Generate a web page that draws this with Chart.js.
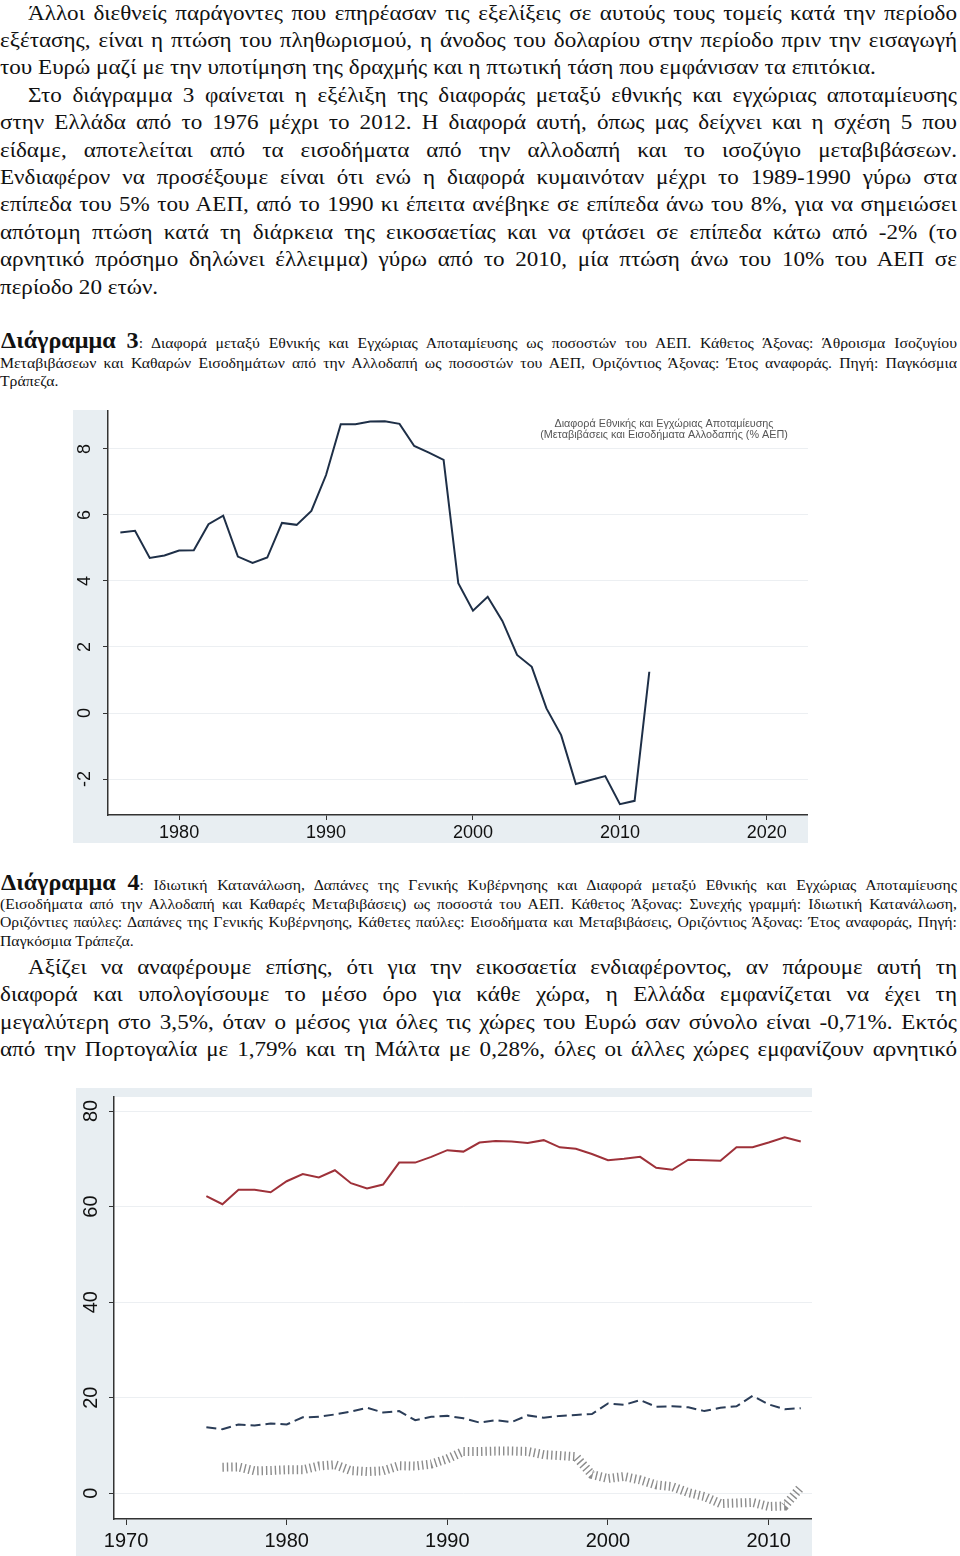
<!DOCTYPE html>
<html><head><meta charset="utf-8">
<script src="https://cdn.jsdelivr.net/npm/chart.js@4.4.1/dist/chart.umd.min.js"></script>
<style>
html,body{margin:0;padding:0;background:#fff;width:960px;height:1556px;overflow:hidden;position:relative;}
.ln{position:absolute;white-space:nowrap;font-family:"Liberation Serif","Times New Roman",serif;color:#111;transform-origin:0 0;}
.ln b{font-weight:bold;}
canvas{position:absolute;}
</style></head><body>
<canvas id="c1" width="735" height="433" style="left:73px;top:410px;"></canvas>
<canvas id="c2" width="736" height="468" style="left:76px;top:1088px;"></canvas>
<script>
// ---- Chart 3 data: difference national - domestic saving (% GDP) ----
const years1 = [1976,1977,1978,1979,1980,1981,1982,1983,1984,1985,1986,1987,1988,1989,1990,1991,1992,1993,1994,1995,1996,1997,1998,1999,2000,2001,2002,2003,2004,2005,2006,2007,2008,2009,2010,2011,2012];
const savingGap = [5.47,5.52,4.70,4.77,4.92,4.93,5.72,5.98,4.74,4.55,4.71,5.76,5.70,6.12,7.21,8.75,8.75,8.83,8.84,8.76,8.09,7.89,7.67,3.93,3.10,3.52,2.79,1.76,1.40,0.14,-0.67,-2.15,-2.03,-1.91,-2.76,-2.66,1.25];
const xTicks1 = [1980,1990,2000,2010,2020];
const yTicks1 = [-2,0,2,4,6,8];
const legend1 = ["Διαφορά Εθνικής και Εγχώριας Αποταμίευσης","(Μεταβιβάσεις και Εισοδήματα Αλλοδαπής (% ΑΕΠ)"];

// ---- Chart 4 data ----
const years2 = [1975,1976,1977,1978,1979,1980,1981,1982,1983,1984,1985,1986,1987,1988,1989,1990,1991,1992,1993,1994,1995,1996,1997,1998,1999,2000,2001,2002,2003,2004,2005,2006,2007,2008,2009,2010,2011,2012];
const privateConsumption = [62.2,60.5,63.5,63.5,63.0,65.3,66.8,66.1,67.6,64.9,63.8,64.6,69.2,69.2,70.4,71.8,71.5,73.4,73.7,73.6,73.3,73.9,72.4,72.1,71.0,69.7,70.0,70.4,68.1,67.7,69.8,69.7,69.6,72.4,72.4,73.4,74.5,73.6];
const govSpending = [13.8,13.4,14.4,14.2,14.6,14.4,15.9,16.0,16.5,17.1,17.9,16.9,17.2,15.3,16.0,16.2,15.7,14.8,15.3,14.9,16.3,15.8,16.2,16.4,16.6,18.8,18.5,19.5,18.1,18.2,18.0,17.2,17.9,18.2,20.4,18.6,17.6,17.8];
const xTicks2 = [1970,1980,1990,2000,2010];
const yTicks2 = [0,20,40,60,80];

// ---- Text ----
const P = {s:20,k:1.155}, C = {s:15,k:1.05};
const textLines = [
 {x:28,b:19.5,...P,j:1,h:"Άλλοι διεθνείς παράγοντες που επηρέασαν τις εξελίξεις σε αυτούς τους τομείς κατά την περίοδο"},
 {x:0,b:46.9,...P,j:1,h:"εξέτασης, είναι η πτώση του πληθωρισμού, η άνοδος του δολαρίου στην περίοδο πριν την εισαγωγή"},
 {x:0,b:74.3,...P,j:0,h:"του Ευρώ μαζί με την υποτίμηση της δραχμής και η πτωτική τάση που εμφάνισαν τα επιτόκια."},
 {x:28,b:101.7,...P,j:1,h:"Στο διάγραμμα 3 φαίνεται η εξέλιξη της διαφοράς μεταξύ εθνικής και εγχώριας αποταμίευσης"},
 {x:0,b:129.1,...P,j:1,h:"στην Ελλάδα από το 1976 μέχρι το 2012. Η διαφορά αυτή, όπως μας δείχνει και η σχέση 5 που"},
 {x:0,b:156.5,...P,j:1,h:"είδαμε, αποτελείται από τα εισοδήματα από την αλλοδαπή και το ισοζύγιο μεταβιβάσεων."},
 {x:0,b:183.9,...P,j:1,h:"Ενδιαφέρον να προσέξουμε είναι ότι ενώ η διαφορά κυμαινόταν μέχρι το 1989-1990 γύρω στα"},
 {x:0,b:211.3,...P,j:1,h:"επίπεδα του 5% του ΑΕΠ, από το 1990 κι έπειτα ανέβηκε σε επίπεδα άνω του 8%, για να σημειώσει"},
 {x:0,b:238.7,...P,j:1,h:"απότομη πτώση κατά τη διάρκεια της εικοσαετίας και να φτάσει σε επίπεδα κάτω από -2% (το"},
 {x:0,b:266.1,...P,j:1,h:"αρνητικό πρόσημο δηλώνει έλλειμμα) γύρω από το 2010, μία πτώση άνω του 10% του ΑΕΠ σε"},
 {x:0,b:293.5,...P,j:0,h:"περίοδο 20 ετών."},
 {x:1,b:347.5,...C,j:1,h:"<b style='font-size:23px'>Διάγραμμα 3</b>: Διαφορά μεταξύ Εθνικής και Εγχώριας Αποταμίευσης ως ποσοστών του ΑΕΠ. Κάθετος Άξονας: Άθροισμα Ισοζυγίου"},
 {x:0,b:367.5,...C,j:1,h:"Μεταβιβάσεων και Καθαρών Εισοδημάτων από την Αλλοδαπή ως ποσοστών του ΑΕΠ, Οριζόντιος Άξονας: Έτος αναφοράς. Πηγή: Παγκόσμια"},
 {x:0,b:386,...C,j:0,h:"Τράπεζα."},
 {x:1,b:889.5,...C,j:1,h:"<b style='font-size:23px'>Διάγραμμα 4</b>: Ιδιωτική Κατανάλωση, Δαπάνες της Γενικής Κυβέρνησης και Διαφορά μεταξύ Εθνικής και Εγχώριας Αποταμίευσης"},
 {x:0,b:909,...C,j:1,h:"(Εισοδήματα από την Αλλοδαπή και Καθαρές Μεταβιβάσεις) ως ποσοστά του ΑΕΠ. Κάθετος Άξονας: Συνεχής γραμμή: Ιδιωτική Κατανάλωση,"},
 {x:0,b:927.4,...C,j:1,h:"Οριζόντιες παύλες: Δαπάνες της Γενικής Κυβέρνησης, Κάθετες παύλες: Εισοδήματα και Μεταβιβάσεις, Οριζόντιος Άξονας: Έτος αναφοράς, Πηγή:"},
 {x:0,b:945.7,...C,j:0,h:"Παγκόσμια Τράπεζα."},
 {x:28,b:974,...P,j:1,h:"Αξίζει να αναφέρουμε επίσης, ότι για την εικοσαετία ενδιαφέροντος, αν πάρουμε αυτή τη"},
 {x:0,b:1001.2,...P,j:1,h:"διαφορά και υπολογίσουμε το μέσο όρο για κάθε χώρα, η Ελλάδα εμφανίζεται να έχει τη"},
 {x:0,b:1028.5,...P,j:1,h:"μεγαλύτερη στο 3,5%, όταν ο μέσος για όλες τις χώρες του Ευρώ σαν σύνολο είναι -0,71%. Εκτός"},
 {x:0,b:1055.8,...P,j:1,h:"από την Πορτογαλία με 1,79% και τη Μάλτα με 0,28%, όλες οι άλλες χώρες εμφανίζουν αρνητικό"}
];
const RIGHT = 957;
textLines.forEach(t=>{
  const d=document.createElement('div'); d.className='ln';
  d.innerHTML=t.h; d.style.fontSize=t.s+'px'; d.style.lineHeight='1.2';
  d.style.left=t.x+'px'; d.style.top='0px';
  const m=document.createElement('span');
  m.style.cssText='display:inline-block;width:0;height:0;vertical-align:baseline;';
  d.appendChild(m);
  document.body.appendChild(d);
  const by=m.getBoundingClientRect().top;
  d.style.top=(t.b-by)+'px';
  let k=t.k;
  const w=d.getBoundingClientRect().width;
  if(t.j){
    const target=(RIGHT-t.x);
    const n=(d.textContent.match(/ /g)||[]).length;
    if(w*k>target){ k=target/w; }
    else if(n>0){ d.style.wordSpacing=((target/k-w)/n)+'px'; }
  }
  d.style.transform='scaleX('+k+')';
});

// ---- Charts ----
const SANS = '"Liberation Sans", Arial, Helvetica, sans-serif';
function bgPlugin(bg){ return {id:'bg', beforeDraw(c){ const g=c.ctx, a=c.chartArea; g.save(); g.fillStyle=bg; g.fillRect(0,0,c.width,c.height); g.fillStyle='#fff'; g.fillRect(a.left,a.top,a.right-a.left,a.bottom-a.top); g.restore(); }}; }
function yLabels(xc,size){ return {id:'ylab', afterDraw(c){ const g=c.ctx, s=c.scales.y; g.save(); g.font=size+'px '+SANS; g.fillStyle='#111'; g.textAlign='center'; g.textBaseline='middle';
  s.ticks.forEach(t=>{ const y=s.getPixelForValue(t.value); g.save(); g.translate(xc,y); g.rotate(-Math.PI/2); g.fillText(String(t.value),0,0); g.restore(); });
  g.restore(); }}; }
function axes(o){ return {
  x:{type:'linear',min:o.xmin,max:o.xmax,
     afterBuildTicks:s=>{s.ticks=o.xt.map(v=>({value:v}));}, afterFit:s=>{s.height=o.xh;},
     grid:{drawOnChartArea:false,drawTicks:true,tickLength:o.tl,tickColor:'#333',tickWidth:1},
     border:{display:true,color:'#333',width:1.5},
     ticks:{font:{family:SANS,size:o.fs},color:'#111',padding:o.pad,maxRotation:0,minRotation:0,autoSkip:false,callback:v=>String(v)}},
  y:{type:'linear',min:o.ymin,max:o.ymax,
     afterBuildTicks:s=>{s.ticks=o.yt.map(v=>({value:v}));}, afterFit:s=>{s.width=o.yw;},
     grid:{color:'#eceff2',lineWidth:1,drawTicks:true,tickLength:5,tickColor:'#333',tickWidth:1},
     border:{display:true,color:'#333',width:1.5},
     ticks:{display:false}}
};}

new Chart(document.getElementById('c1'),{
  type:'line',
  data:{datasets:[{data:years1.map((y,i)=>({x:y,y:savingGap[i]})),borderColor:'#1e2f47',borderWidth:2,pointRadius:0,tension:0,fill:false}]},
  options:{responsive:false,animation:false,events:[],layout:{padding:{top:0,right:0,left:0,bottom:0}},
    plugins:{legend:{display:false},tooltip:{enabled:false}},
    scales:axes({xmin:1975.16,xmax:2022.8,xt:xTicks1,xh:28,tl:5,fs:18,pad:2,ymin:-3.09,ymax:9.18,yt:yTicks1,yw:35})},
  plugins:[bgPlugin('#e8eef2'),yLabels(12.5,18),{id:'leg',afterDraw(c){const g=c.ctx;g.save();g.font='10.8px '+SANS;g.fillStyle='#555';g.textAlign='center';g.textBaseline='middle';
    g.fillText(legend1[0],591,14.5);g.fillText(legend1[1],591,25.5);g.restore();}}]
});

new Chart(document.getElementById('c2'),{
  type:'line',
  data:{datasets:[
    {data:years2.map((y,i)=>({x:y,y:privateConsumption[i]})),borderColor:'#9e3139',borderWidth:2,pointRadius:0,tension:0,fill:false},
    {data:years2.map((y,i)=>({x:y,y:govSpending[i]})),borderColor:'#2b3d58',borderWidth:2,borderDash:[10,5],pointRadius:0,tension:0,fill:false},
    {data:years1.map((y,i)=>({x:y,y:savingGap[i]})),borderColor:'#8c8c8c',borderWidth:9,borderDash:[1.4,3],borderCapStyle:'butt',pointRadius:0,tension:0,fill:false}
  ]},
  options:{responsive:false,animation:false,events:[],layout:{padding:{top:9,right:0,left:0,bottom:0}},
    plugins:{legend:{display:false},tooltip:{enabled:false}},
    scales:axes({xmin:1969.25,xmax:2012.7,xt:xTicks2,xh:37,tl:6,fs:20,pad:4,ymin:-5.38,ymax:82.93,yt:yTicks2,yw:38})},
  plugins:[bgPlugin('#e8eef2'),yLabels(15,20)]
});
</script>
</body></html>
